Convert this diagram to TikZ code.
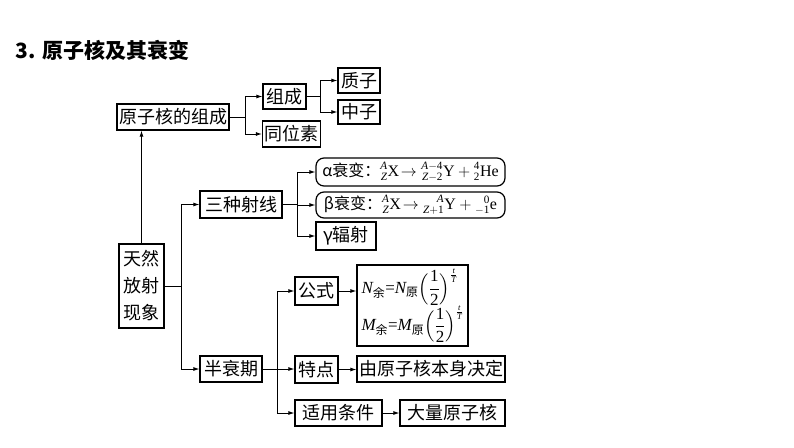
\RequirePackage{fix-cm}
\documentclass[tikz,border=0pt]{standalone}
\usepackage{amsmath}
\usepackage{mathtools}
\usepackage{fontspec}
\newfontfamily\cjk{Noto Sans CJK SC}
\newfontfamily\tms{Liberation Serif}
\usepackage{tikz}
\usetikzlibrary{arrows.meta}

\tikzset{
  box/.style={draw=black,line width=1.2pt,inner sep=2pt,minimum height=26pt,
    font=\cjk\fontsize{18}{20}\selectfont},
  rbox/.style={box,rounded corners=8pt},
  link/.style={line width=0.9pt,->}
}
\newcommand{\sub}[1]{\text{\cjk #1}}
\newcommand{\tv}[1]{\text{\tms #1}}
\newcommand{\ti}[1]{\text{\tms\itshape #1}}

\begin{document}
\begin{tikzpicture}[x=1pt,y=-1pt,>={Latex[length=6pt,width=4pt]}]
            \useasboundingbox (0,0) rectangle (794,447);
            % Title
            \node[anchor=west,font=\cjk\bfseries\fontsize{21}{24}\selectfont] (title) at (12,50) {3. 原子核及其衰变};

            % Composition of the nucleus
            \node[box,minimum width=110pt] (zc) at (173,117) {原子核的组成};
            \node[box,minimum width=43pt,minimum height=25pt] (cheng) at (284.5,96.5) {组成};
            \node[box,minimum width=57pt] (twei) at (291.5,134) {同位素};
            \node[box,minimum width=42pt,minimum height=25pt] (zhi) at (359,80.5) {质子};
            \node[box,minimum width=42pt,minimum height=24pt] (zhong) at (359,112) {中子};

            % Natural radioactivity
            \node[box,minimum width=45pt,minimum height=84pt,align=center,
              font=\cjk\fontsize{18}{27}\selectfont] (tr) at (141.5,286) {天然\\放射\\现象};
            \node[box,minimum width=82pt,minimum height=27pt] (sz) at (241,204.5) {三种射线};
            \node[rbox,minimum width=189pt,minimum height=28pt,inner xsep=1pt,
              font=\cjk\fontsize{16}{20}\selectfont] (alpha) at (410.5,172)
              {α衰变：$\prescript{\ti{A}}{\ti{Z}}{\tv{X}}\!\rightarrow\prescript{\ti{A}-\tv{4}}{\ti{Z}-\tv{2}}{\tv{Y}}+\prescript{\tv{4}}{\tv{2}}{\tv{He}}$};
            \node[rbox,minimum width=189pt,minimum height=26pt,inner xsep=1pt,
              font=\cjk\fontsize{16}{20}\selectfont] (beta) at (410.5,205)
              {β衰变：$\prescript{\ti{A}}{\ti{Z}}{\tv{X}}\!\rightarrow\prescript{\ti{A}}{\ti{Z}+\tv{1}}{\tv{Y}}+\prescript{\tv{0}}{-\tv{1}}{\tv{e}}$};
            \node[box,minimum width=60pt,minimum height=28pt] (gamma) at (346,236) {γ辐射};

            % Half-life
            \node[box,minimum width=62pt] (bsq) at (231,369) {半衰期};
            \node[box,minimum width=43pt,minimum height=28pt] (gs) at (316.5,291) {公式};
            \node[box,minimum width=111pt,minimum height=81pt,align=left,
              font=\fontsize{17}{36}\selectfont] (fm) at (412.5,305.5)
              {$\ti{N}_{\sub{余}}\tv{=}\ti{N}_{\sub{原}}\Bigl(\dfrac{\tv{1}}{\tv{2}}\Bigr)^{\frac{\ti{t}}{\ti{T}}}$\\
               $\ti{M}_{\sub{余}}\tv{=}\ti{M}_{\sub{原}}\Bigl(\dfrac{\tv{1}}{\tv{2}}\Bigr)^{\frac{\ti{t}}{\ti{T}}}$};
            \node[box,minimum width=43pt,minimum height=27pt] (td) at (316.5,369.5) {特点};
            \node[box,minimum width=148pt] (jd) at (431,369) {由原子核本身决定};
            \node[box,minimum width=87pt] (sy) at (338.5,413) {适用条件};
            \node[box,minimum width=105pt] (dl) at (452.5,413) {大量原子核};

            % Junctions
            \coordinate (j1) at (245,117);
            \coordinate (j2) at (320,96.5);
            \coordinate (j3) at (181,286);
            \coordinate (j4) at (297,204.5);
            \coordinate (j5) at (277,369);

            % The lines
            \draw[line width=0.9pt] (zc.east) -- (j1);
            \draw[link] (j1) |- (cheng.west);
            \draw[link] (j1) |- (twei.west);
            \draw[line width=0.9pt] (cheng.east) -- (j2);
            \draw[link] (j2) |- (zhi.west);
            \draw[link] (j2) |- (zhong.west);
            \draw[link] (tr.north) -- (tr.north |- zc.south);
            \draw[line width=0.9pt] (tr.east) -- (j3);
            \draw[link] (j3) |- (sz.west);
            \draw[link] (j3) |- (bsq.west);
            \draw[line width=0.9pt] (sz.east) -- (j4);
            \draw[link] (j4) |- (alpha.west);
            \draw[link] (j4) |- (beta.west);
            \draw[link] (j4) |- (gamma.west);
            \draw[link] (bsq.east) -- (bsq.east -| td.west);
            \draw[link] (j5) |- (gs.west);
            \draw[link] (j5) |- (sy.west);
            \draw[link] (gs.east) -- (gs.east -| fm.west);
            \draw[link] (td.east) -- (td.east -| jd.west);
            \draw[link] (sy.east) -- (sy.east -| dl.west);
        \end{tikzpicture}
\end{document}
